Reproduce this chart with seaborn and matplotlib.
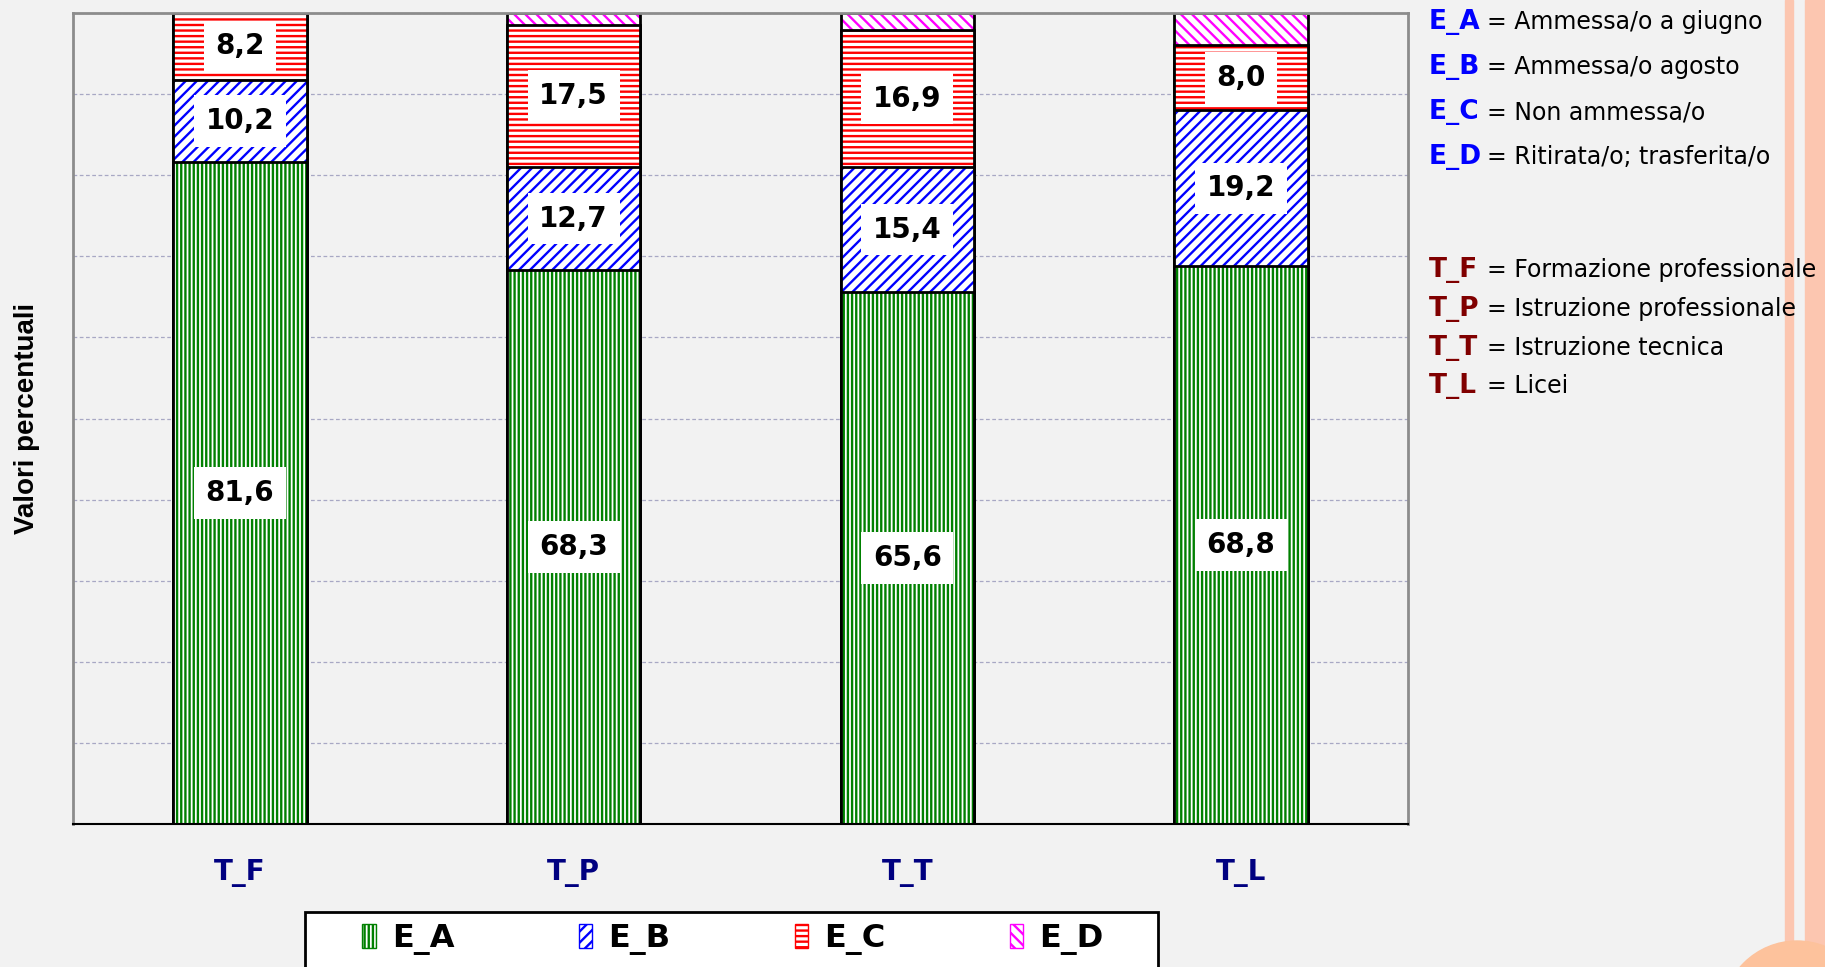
import pandas as pd
import matplotlib
matplotlib.use("Agg")
import matplotlib.pyplot as plt
import seaborn as sns
from matplotlib.patches import Patch, Rectangle, Ellipse

categories = ["T_F", "T_P", "T_T", "T_L"]
e_a = [81.6, 68.3, 65.6, 68.8]
e_b = [10.2, 12.7, 15.4, 19.2]
e_c = [8.2, 17.5, 16.9, 8.0]
e_d = [0.0, 1.5, 2.1, 4.0]

series_names = ["E_A", "E_B", "E_C", "E_D"]
series_colors = ["#008000", "#0000FF", "#FF0000", "#FF00FF"]
series_hatches = ["||||", "///", "---", "\\\\\\"]

e_keys = ["E_A", "E_B", "E_C", "E_D"]
e_desc = ["Ammessa/o a giugno", "Ammessa/o agosto", "Non ammessa/o",
          "Ritirata/o; trasferita/o"]
t_keys = ["T_F", "T_P", "T_T", "T_L"]
t_desc = ["Formazione professionale", "Istruzione professionale",
          "Istruzione tecnica", "Licei"]

sns.set_style("white")
plt.rcParams["hatch.linewidth"] = 1.7
plt.rcParams["text.color"] = "black"
bg = "#F2F2F2"

df = pd.DataFrame({"categoria": categories, "E_A": e_a, "E_B": e_b,
                   "E_C": e_c, "E_D": e_d})
cum = df[series_names].cumsum(axis=1)
cum["categoria"] = df["categoria"]

W, H = 1825, 967
fig = plt.figure(figsize=(W / 100, H / 100), dpi=100, facecolor=bg)
ax = fig.add_axes([73 / W, 1 - 824 / H, (1408 - 73) / W, (824 - 13) / H])
ax.set_facecolor(bg)

# stacked bars: draw cumulative totals from the top layer down
for i in reversed(range(len(series_names))):
    n_before = len(ax.patches)
    sns.barplot(data=cum, x="categoria", y=series_names[i], order=categories,
                color="white", edgecolor=series_colors[i],
                hatch=series_hatches[i], linewidth=0, width=0.4,
                saturation=1, ax=ax, zorder=2)
    for p in ax.patches[n_before:]:
        ax.add_patch(Rectangle(p.get_xy(), p.get_width(), p.get_height(),
                               fill=False, edgecolor="black", linewidth=2,
                               zorder=2))

# value labels (E_D has none)
for j, cat in enumerate(categories):
    base = 0
    for i, name in enumerate(series_names):
        v = df.loc[j, name]
        if i < 3:
            ax.text(j, base + v / 2, f"{v:.1f}".replace(".", ","),
                    ha="center", va="center", fontsize=20, fontweight="bold",
                    color="black", zorder=5,
                    bbox=dict(boxstyle="square,pad=0.42", fc="white",
                              ec="none"))
        base += v

ax.set_ylim(0, 100)
ax.set_xlim(-0.5, len(categories) - 0.5)
ax.set_yticks(range(0, 101, 10))
ax.set_yticklabels([])
ax.tick_params(axis="y", length=0)
ax.grid(axis="y", color="#A8A8C4", linestyle=(0, (3, 2)), linewidth=0.9,
        zorder=0)
ax.set_axisbelow(True)
ax.set_xlabel("")
ax.set_ylabel("")
ax.set_xticks(range(len(categories)))
ax.set_xticklabels(categories, fontsize=20, fontweight="bold",
                   color="#000080")
ax.tick_params(axis="x", which="major", length=0, pad=25)
ax.set_xticks([x - 0.5 for x in range(len(categories) + 1)], minor=True)
ax.tick_params(axis="x", which="minor", length=7, width=1.5,
               direction="out", color="black")
for s in ["left", "top", "right"]:
    ax.spines[s].set_color("#8C8C8C")
    ax.spines[s].set_linewidth(2)
ax.spines["bottom"].set_color("black")
ax.spines["bottom"].set_linewidth(1.5)

fig.text(27 / W, 1 - 418 / H, "Valori percentuali", rotation=90,
         ha="center", va="center", fontsize=20, fontweight="bold",
         family="Liberation Sans", color="black")

# legend below the chart
handles = [Patch(facecolor="white", edgecolor=c, hatch=h, linewidth=1)
           for c, h in zip(series_colors, series_hatches)]
fig.add_artist(Rectangle((305 / W, -0.01), (1158 - 305) / W,
                         1.01 - 912 / H, transform=fig.transFigure,
                         facecolor="white", edgecolor="black", linewidth=2,
                         zorder=1))
leg = fig.legend(handles, series_names, loc="center",
                 bbox_to_anchor=(733 / W, 1 - 939 / H), ncol=4,
                 frameon=False, prop=dict(size=23, weight="bold"),
                 handlelength=0.42, handleheight=0.75, handletextpad=0.5,
                 columnspacing=3.9)
for t in leg.get_texts():
    t.set_color("black")

# key texts on the right
e_y = [29, 74, 119, 164]
t_y = [277, 316, 355, 393]
for k, d, y in zip(e_keys, e_desc, e_y):
    fig.text(1429 / W, 1 - y / H, k, color="#0000FF", fontsize=19,
             fontweight="bold", va="baseline", zorder=3)
    fig.text(1487 / W, 1 - y / H, "= " + d, color="black", fontsize=17,
             va="baseline", zorder=3)
for k, d, y in zip(t_keys, t_desc, t_y):
    fig.text(1429 / W, 1 - y / H, k, color="#800000", fontsize=19,
             fontweight="bold", va="baseline", zorder=3)
    fig.text(1487 / W, 1 - y / H, "= " + d, color="black", fontsize=17,
             va="baseline", zorder=3)

# decorative stripes and circle at the right edge
fig.add_artist(Rectangle((1785 / W, 0), 8 / W, 1, transform=fig.transFigure,
                         color="#FCC6B0", zorder=1))
fig.add_artist(Rectangle((1805 / W, 0), 20 / W, 1, transform=fig.transFigure,
                         color="#FCC6B0", zorder=1))
fig.add_artist(Ellipse((1797 / W, 1 - 1016 / H), 150 / W, 150 / H,
                       transform=fig.transFigure, color="#FDC29C", zorder=2))

fig.savefig("out.png", dpi=100, facecolor=bg)
